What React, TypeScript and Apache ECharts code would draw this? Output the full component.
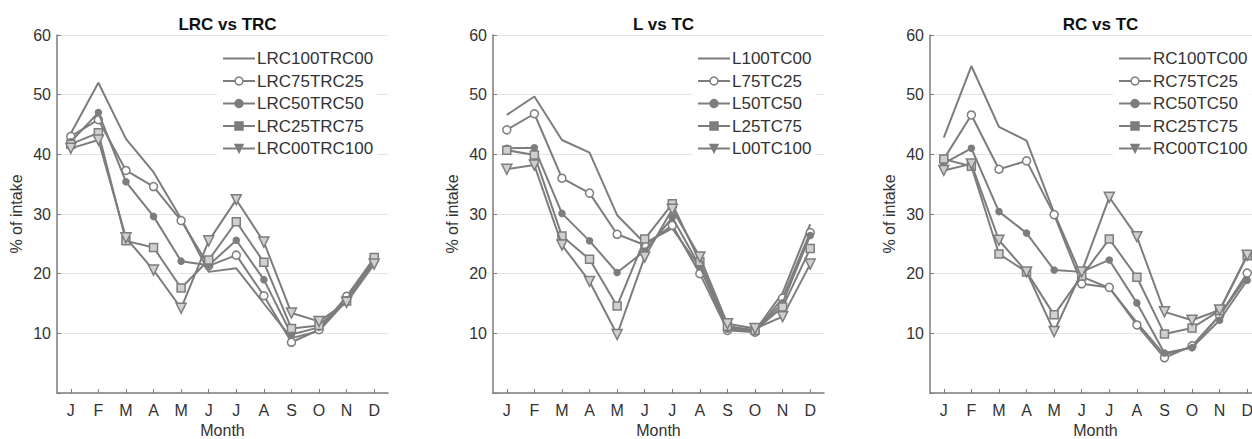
import React, { useEffect, useRef } from "react";
import * as echarts from "echarts";

const months = ["J", "F", "M", "A", "M", "J", "J", "A", "S", "O", "N", "D"];
const yTicks = [0, 10, 20, 30, 40, 50, 60];

const titles = ["LRC vs TRC", "L vs TC", "RC vs TC"];

const names1 = ["LRC100TRC00", "LRC75TRC25", "LRC50TRC50", "LRC25TRC75", "LRC00TRC100"];
const lrc100 = [43.5, 52.0, 42.6, 37.0, 29.2, 20.3, 20.9, 15.0, 9.2, 10.4, 15.5, 22.0];
const lrc75 = [43.0, 45.8, 37.3, 34.6, 28.9, 21.3, 23.1, 16.3, 8.5, 10.6, 16.2, 22.6];
const lrc50 = [42.1, 47.0, 35.4, 29.6, 22.1, 21.4, 25.6, 19.0, 9.8, 11.0, 15.6, 22.5];
const lrc25 = [41.7, 43.6, 25.5, 24.4, 17.6, 22.3, 28.7, 21.9, 10.8, 11.3, 15.4, 22.7];
const lrc00 = [41.0, 42.4, 26.0, 20.6, 14.2, 25.5, 32.4, 25.3, 13.4, 12.0, 15.2, 21.6];

const names2 = ["L100TC00", "L75TC25", "L50TC50", "L25TC75", "L00TC100"];
const l100 = [46.6, 49.7, 42.4, 40.3, 29.8, 25.1, 27.6, 21.0, 11.0, 10.4, 16.8, 28.3];
const l75 = [44.1, 46.8, 36.0, 33.5, 26.6, 24.8, 28.1, 20.0, 10.5, 10.2, 15.9, 26.9];
const l50 = [41.0, 41.1, 30.1, 25.5, 20.2, 23.8, 29.4, 21.2, 10.7, 10.3, 15.1, 26.4];
const l25 = [40.7, 39.9, 26.3, 22.4, 14.6, 25.8, 31.7, 22.0, 11.2, 10.5, 14.4, 24.2];
const l00 = [37.5, 38.2, 24.8, 18.7, 9.8, 22.8, 30.8, 22.8, 11.6, 10.8, 12.8, 21.6];

const names3 = ["RC100TC00", "RC75TC25", "RC50TC50", "RC25TC75", "RC00TC100"];
const rc100 = [42.8, 54.8, 44.6, 42.3, 30.2, 19.5, 17.6, 11.8, 6.4, 7.7, 13.0, 19.5];
const rc75 = [39.2, 46.6, 37.5, 38.9, 29.9, 18.3, 17.7, 11.4, 5.9, 7.9, 13.0, 20.1];
const rc50 = [38.5, 41.0, 30.4, 26.8, 20.6, 20.3, 22.3, 15.1, 6.7, 7.6, 12.2, 18.9];
const rc25 = [39.2, 38.0, 23.3, 20.3, 13.1, 19.6, 25.8, 19.4, 9.9, 10.9, 13.8, 23.0];
const rc00 = [37.3, 38.4, 25.6, 20.3, 10.3, 20.3, 32.8, 26.2, 13.6, 12.2, 13.9, 23.1];

const panels = [
  { names: names1, values: [lrc100, lrc75, lrc50, lrc25, lrc00] },
  { names: names2, values: [l100, l75, l50, l25, l00] },
  { names: names3, values: [rc100, rc75, rc50, rc25, rc00] },
];

const FONT = "'Liberation Sans', Arial, sans-serif";
const LINE = "#7d7d7d";
const TEXT = "#333333";

const gridLefts = [57, 493, 930];
const gridWidth = 331;
const legendLefts = [217, 692, 1113];

const markerStyles = [
  { symbol: "none", symbolSize: 0, symbolRotate: 0, fill: LINE, legendFill: "rgba(0,0,0,0)", legendBorder: 0 },
  { symbol: "circle", symbolSize: 8, symbolRotate: 0, fill: "#ffffff", legendFill: "#ffffff", legendBorder: 1.5 },
  { symbol: "circle", symbolSize: 6, symbolRotate: 0, fill: LINE, legendFill: LINE, legendBorder: 1.5 },
  { symbol: "rect", symbolSize: 8, symbolRotate: 0, fill: "#cfcfcf", legendFill: LINE, legendBorder: 1.5 },
  { symbol: "triangle", symbolSize: 10, symbolRotate: 180, fill: "#cfcfcf", legendFill: LINE, legendBorder: 1.5 },
];

export default function App() {
  const ref = useRef<HTMLDivElement>(null);

  useEffect(() => {
    if (!ref.current) return;
    const chart = echarts.init(ref.current, undefined, { renderer: "svg" });

    const grid = gridLefts.map((l) => ({
      left: l,
      top: 35,
      width: gridWidth,
      height: 358,
      containLabel: false,
      outerBoundsMode: "none",
    }));

    const xAxis = gridLefts.map((_, i) => ({
      type: "category",
      gridIndex: i,
      data: months,
      boundaryGap: true,
      name: "Month",
      nameLocation: "middle",
      nameGap: 28,
      nameTextStyle: { fontFamily: FONT, fontSize: 16, color: TEXT },
      axisLine: { show: true, lineStyle: { color: LINE, width: 1.5 } },
      axisTick: { show: true, inside: true, length: 4, alignWithLabel: true, lineStyle: { color: LINE } },
      axisLabel: { fontFamily: FONT, fontSize: 16, color: TEXT, margin: 9, interval: 0 },
      splitLine: { show: false },
    }));

    const yAxis = gridLefts.map((_, i) => ({
      type: "value",
      gridIndex: i,
      min: yTicks[0],
      max: yTicks[yTicks.length - 1],
      interval: 10,
      name: "% of intake",
      nameLocation: "middle",
      nameGap: 33,
      nameTextStyle: { fontFamily: FONT, fontSize: 16, color: TEXT },
      axisLine: { show: true, lineStyle: { color: LINE, width: 1.5 } },
      axisTick: { show: true, inside: true, length: 4, lineStyle: { color: LINE } },
      axisLabel: {
        fontFamily: FONT,
        fontSize: 16,
        color: TEXT,
        margin: 6,
        formatter: (v: number) => (v === 0 ? "" : String(v)),
      },
      splitLine: { show: true, lineStyle: { color: "#e4e4e4", width: 1 } },
    }));

    const title = titles.map((t, i) => ({
      text: t,
      left: gridLefts[i] + gridWidth / 2,
      top: 11,
      textAlign: "center",
      textStyle: { fontFamily: FONT, fontSize: 17, fontWeight: "bold", color: "#111" },
    }));

    const legend = panels.map((p, i) => ({
      orient: "vertical",
      left: legendLefts[i],
      top: 47,
      padding: [3, 4, 3, 5],
      backgroundColor: "#ffffff",
      itemWidth: 32,
      itemHeight: 10,
      itemGap: 5.5,
      textStyle: { fontFamily: FONT, fontSize: 17, color: TEXT, padding: [0, 0, 0, -3] },
      data: p.names.map((n, k) => ({
        name: n,
        itemStyle: {
          color: markerStyles[k].legendFill,
          borderColor: markerStyles[k].legendBorder ? LINE : "rgba(0,0,0,0)",
          borderWidth: markerStyles[k].legendBorder,
        },
      })),
    }));

    const series: any[] = [];
    panels.forEach((p, i) => {
      p.names.forEach((n, k) => {
        const m = markerStyles[k];
        series.push({
          type: "line",
          name: n,
          xAxisIndex: i,
          yAxisIndex: i,
          data: p.values[k],
          symbol: m.symbol,
          symbolSize: m.symbolSize,
          symbolRotate: m.symbolRotate,
          showSymbol: m.symbol !== "none",
          lineStyle: { color: LINE, width: 2 },
          itemStyle: { color: m.fill, borderColor: LINE, borderWidth: 1.5 },
          emphasis: { disabled: true },
          z: 2 + k,
        });
      });
    });

    chart.setOption({
      animation: false,
      backgroundColor: "#ffffff",
      title,
      legend,
      grid,
      xAxis,
      yAxis,
      series,
    });

    return () => chart.dispose();
  }, []);

  return (
    <div
      ref={ref}
      style={{ position: "fixed", left: 0, top: 0, width: 1252, height: 439 }}
    />
  );
}
